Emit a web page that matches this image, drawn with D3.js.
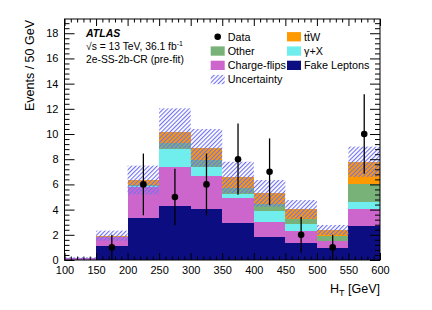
<!DOCTYPE html>
<html><head><meta charset="utf-8">
<script src="https://cdn.jsdelivr.net/npm/d3@7/dist/d3.min.js"></script>
<style>
body{margin:0;background:#fff;}
svg text{font-family:"Liberation Sans",Arial,Helvetica,sans-serif;}
</style></head>
<body><svg id="c" width="432" height="310"></svg>
<script>
const binEdges = [100,150,200,250,300,350,400,450,500,550,600];
const fake        = [0, 1.08, 3.31, 4.29, 4.05, 2.91, 1.80, 1.32, 0.93, 2.67];
const chargeFlips = [0.12, 0.71, 2.51, 3.12, 2.62, 2.04, 1.24, 0.98, 0.58, 1.35];
const gammaX      = [0, 0.02, 0.05, 1.37, 0.68, 0.26, 0.88, 0.53, 0.00, 0.61];
const other       = [0, 0.04, 0.06, 0.48, 0.59, 0.48, 0.52, 0.42, 0.42, 1.40];
const ttW         = [0, 0.08, 0.42, 0.87, 0.98, 0.92, 0.85, 0.77, 0.45, 1.75];
const uncUp       = [0.22, 2.33, 7.49, 12.04, 10.4, 7.8, 6.35, 4.76, 2.78, 9.0];
const uncDown     = [0.03, 1.53, 5.21, 8.85, 7.4, 5.3, 4.23, 3.28, 1.98, 6.6];
const dataCounts  = [0, 1, 6, 5, 6, 8, 7, 2, 1, 10];
const dataErr     = [0, 1, 2.45, 2.24, 2.45, 2.83, 2.65, 1.41, 1, 3.16];
const xTicks = [100,150,200,250,300,350,400,450,500,550,600];
const yTicks = [0,2,4,6,8,10,12,14,16,18];

const seriesNames = ["Fake Leptons","Charge-flips","γ+X","Other","ttW"];
const seriesVals = [fake, chargeFlips, gammaX, other, ttW];
const colors = ["#0d0d82","#cc66cc","#70eeee","#79b279","#ff9900"];

const svg = d3.select("#c");
const L=64.5, R=380, T=19, B=260;
const x = d3.scaleLinear().domain([100,600]).range([L,R]);
const y = d3.scaleLinear().domain([0,19.13]).range([B,T]);

const defs = svg.append("defs");
const pat = defs.append("pattern").attr("id","hatch").attr("patternUnits","userSpaceOnUse")
  .attr("width",3).attr("height",3).attr("patternTransform","rotate(45)");
pat.append("rect").attr("x",0).attr("y",0).attr("width",1.1).attr("height",3).attr("fill","#7070f0");

// stacked bars
const rows = binEdges.slice(0,-1).map((lo,i)=>{
  const r={lo,hi:binEdges[i+1]};
  seriesNames.forEach((n,k)=>r[n]=seriesVals[k][i]);
  return r;
});
const stack = d3.stack().keys(seriesNames)(rows);
stack.forEach((s,k)=>{
  svg.append("g").selectAll("rect").data(s).join("rect")
    .attr("x",d=>x(d.data.lo)).attr("width",d=>x(d.data.hi)-x(d.data.lo))
    .attr("y",d=>y(d[1])).attr("height",d=>Math.max(0,y(d[0])-y(d[1])))
    .attr("fill",colors[k]).attr("shape-rendering","crispEdges");
});
// uncertainty
svg.append("g").selectAll("rect").data(rows.map((r,i)=>({lo:r.lo,hi:r.hi,up:uncUp[i],dn:uncDown[i]}))).join("rect")
  .attr("x",d=>x(d.lo)).attr("width",d=>x(d.hi)-x(d.lo))
  .attr("y",d=>y(d.up)).attr("height",d=>y(d.dn)-y(d.up))
  .attr("fill","url(#hatch)");

// data
const pts = rows.map((r,i)=>({c:(r.lo+r.hi)/2,n:dataCounts[i],e:dataErr[i]})).filter(d=>d.n>0);
const dg = svg.append("g");
dg.selectAll("line").data(pts).join("line")
  .attr("x1",d=>x(d.c)).attr("x2",d=>x(d.c))
  .attr("y1",d=>y(Math.max(0,d.n-d.e))).attr("y2",d=>y(d.n+d.e))
  .attr("stroke","#000").attr("stroke-width",1.3);
dg.selectAll("circle").data(pts).join("circle")
  .attr("cx",d=>x(d.c)).attr("cy",d=>y(d.n)).attr("r",3.3).attr("fill","#000");

// axes
const fs = "11px";
function style(g){ g.select(".domain").remove(); g.selectAll("line").attr("stroke","#000"); g.selectAll("text").attr("font-size",fs).attr("fill","#000").attr("font-family","Liberation Sans, Arial, sans-serif"); }
const yMinor = d3.range(0,19.1,0.4).filter(v=>Math.abs(v/2-Math.round(v/2))>1e-6);
const xMinor = d3.range(100,601,10).filter(v=>v%50!==0);
svg.append("g").attr("transform",`translate(${L},0)`).call(d3.axisLeft(y).tickValues(yTicks).tickSize(-10).tickPadding(6)).call(style);
svg.append("g").attr("transform",`translate(${L},0)`).call(d3.axisLeft(y).tickValues(yMinor).tickSize(-5).tickFormat("")).call(style);
svg.append("g").attr("transform",`translate(${R},0)`).call(d3.axisRight(y).tickValues(yTicks).tickSize(-10).tickFormat("")).call(style);
svg.append("g").attr("transform",`translate(${R},0)`).call(d3.axisRight(y).tickValues(yMinor).tickSize(-5).tickFormat("")).call(style);
svg.append("g").attr("transform",`translate(0,${B})`).call(d3.axisBottom(x).tickValues(xTicks).tickSize(-7).tickPadding(6).tickFormat(d3.format("d"))).call(style);
svg.append("g").attr("transform",`translate(0,${B})`).call(d3.axisBottom(x).tickValues(xMinor).tickSize(-3.5).tickFormat("")).call(style);
svg.append("g").attr("transform",`translate(0,${T})`).call(d3.axisTop(x).tickValues(xTicks).tickSize(-7).tickFormat("")).call(style);
svg.append("g").attr("transform",`translate(0,${T})`).call(d3.axisTop(x).tickValues(xMinor).tickSize(-3.5).tickFormat("")).call(style);
svg.append("rect").attr("x",L).attr("y",T).attr("width",R-L).attr("height",B-T).attr("fill","none").attr("stroke","#000").attr("stroke-width",1);

// axis titles
const xt = svg.append("text").attr("x",R).attr("y",293).attr("text-anchor","end").attr("font-size","12.5px");
xt.append("tspan").text("H");
xt.append("tspan").attr("font-size","9px").attr("dy",3).text("T");
xt.append("tspan").attr("dy",-3).text(" [GeV]");
svg.append("text").attr("transform","translate(33.5,20) rotate(-90)").attr("text-anchor","end").attr("font-size","12.5px").text("Events / 50 GeV");

// ATLAS label
svg.append("text").attr("x",86).attr("y",36.7).attr("font-size","10.5px").attr("font-weight","bold").attr("font-style","italic").text("ATLAS");
const l2 = svg.append("text").attr("x",86).attr("y",49.5).attr("font-size","10.3px");
l2.append("tspan").text("√s = 13 TeV, 36.1 fb");
l2.append("tspan").attr("font-size","7px").attr("dy",-4).text("-1");
svg.append("text").attr("x",86).attr("y",62.5).attr("font-size","10.3px").text("2e-SS-2b-CR (pre-fit)");

// legend
const lg = svg.append("g").attr("font-size","10.8px");
const rowY = [36.7, 51, 65.3, 79.5];
const legItems = [
  {col:0,row:0,type:"data",label:"Data"},
  {col:1,row:0,type:"box",color:colors[4],label:"ttW"},
  {col:0,row:1,type:"box",color:colors[3],label:"Other"},
  {col:1,row:1,type:"box",color:colors[2],label:"γ+X"},
  {col:0,row:2,type:"box",color:colors[1],label:"Charge-flips"},
  {col:1,row:2,type:"box",color:colors[0],label:"Fake Leptons"},
  {col:0,row:3,type:"hatch",label:"Uncertainty"}
];
const colX = [210.7, 287];
legItems.forEach(it=>{
  const cy = rowY[it.row], x0 = colX[it.col];
  if(it.type==="data") lg.append("circle").attr("cx",x0+7).attr("cy",cy).attr("r",3.3).attr("fill","#000");
  else if(it.type==="box") lg.append("rect").attr("x",x0).attr("y",cy-4.6).attr("width",14).attr("height",9.3).attr("fill",it.color);
  else lg.append("rect").attr("x",x0).attr("y",cy-4.6).attr("width",14).attr("height",9.3).attr("fill","url(#hatch)");
  const t = lg.append("text").attr("x",x0+17).attr("y",cy+3.8);
  if(it.label==="ttW"){ t.append("tspan").text("t"); t.append("tspan").text("t\u0304"); t.append("tspan").text("W"); }
  else t.text(it.label);
});
</script></body></html>
